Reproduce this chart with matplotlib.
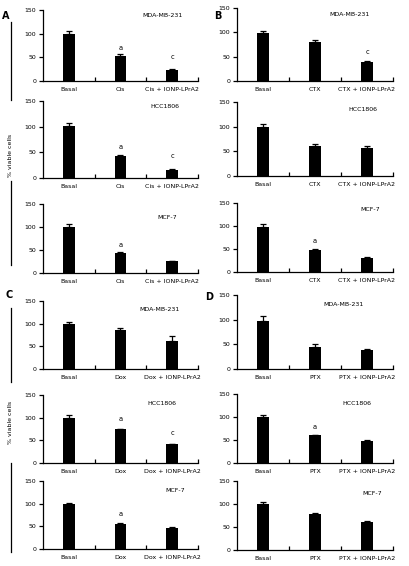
import matplotlib
matplotlib.use('Agg')
import matplotlib.pyplot as plt

# % viable cells
cells = ['MDA-MB-231', 'HCC1806', 'MCF-7']
drugs = ['Cis', 'CTX', 'Dox', 'PTX']

means = {
    'Cis': [[100, 53, 24], [102, 43, 16], [100, 43, 27]],
    'CTX': [[99, 80, 40], [99, 61, 57], [98, 47, 31]],
    'Dox': [[99, 86, 62], [100, 74, 41], [100, 55, 46]],
    'PTX': [[98, 45, 39], [99, 60, 47], [100, 79, 61]],
}
errs = {
    'Cis': [[5, 4, 1.5], [5, 2, 2], [6, 2, 0]],
    'CTX': [[4, 5, 1.5], [6, 3.5, 3.5], [6, 3.5, 1.5]],
    'Dox': [[4, 4.5, 11], [5, 2, 2], [1.5, 1.5, 1.5]],
    'PTX': [[10, 6, 1.5], [5, 0, 4], [4, 1.5, 1.5]],
}
# significance letters: (bar index, text, y)
marks = {
    'Cis': [[(1, 'a', 70), (2, 'c', 50)], [(1, 'a', 60), (2, 'c', 42)], [(1, 'a', 61)]],
    'CTX': [[(2, 'c', 59)], [], [(1, 'a', 68)]],
    'Dox': [[], [(1, 'a', 97), (2, 'c', 66)], [(1, 'a', 78)]],
    'PTX': [[], [(1, 'a', 79)], []],
}
label_pos = {
    'Cis': [(1.82, 139), (1.86, 140), (1.9, 120)],
    'CTX': [(1.67, 136), (1.92, 134), (2.06, 135)],
    'Dox': [(1.76, 132), (1.8, 132), (2.05, 130)],
    'PTX': [(1.54, 130), (1.8, 130), (2.1, 122)],
}

W, H = 410, 566
fig = plt.figure(figsize=(W / 100, H / 100), dpi=100)
fs = 4.5

# pixel boxes (x0, x1) per column and (top, bottom) per row
cols = {'Cis': (43, 198), 'Dox': (43, 198), 'CTX': (237, 393), 'PTX': (237, 393)}
rows = {
    'Cis': [(10, 81), (101, 178), (204, 273)],
    'CTX': [(8, 81), (102, 176), (203, 272)],
    'Dox': [(301, 369), (395, 463), (481, 549)],
    'PTX': [(295, 369), (394, 463), (481, 550)],
}

for drug in drugs:
    x0, x1 = cols[drug]
    cats = ['Basal', drug, drug + ' + IONP-LPrA2']
    for i, cell in enumerate(cells):
        top, bot = rows[drug][i]
        ax = fig.add_axes([x0 / W, 1 - bot / H, (x1 - x0) / W, (bot - top) / H])
        xs = [0, 1, 2]
        ax.bar(xs, means[drug][i], width=0.23, color='black')
        ax.errorbar(xs, means[drug][i], yerr=[[0, 0, 0], errs[drug][i]],
                    fmt='none', ecolor='black', elinewidth=0.9, capsize=2, capthick=0.9)
        for k, t, y in marks[drug][i]:
            ax.text(k, y, t, ha='center', va='center', fontsize=fs + 0.3)
        lx, ly = label_pos[drug][i]
        ax.text(lx, ly, cell, ha='center', va='center', fontsize=fs)
        ax.set_xlim(-0.5, 2.5)
        ax.set_ylim(0, 150)
        ax.set_yticks([0, 50, 100, 150])
        ax.set_xticks(xs)
        ax.set_xticklabels(cats, fontsize=fs)
        ax.set_xticks([0.5, 1.5, 2.5], minor=True)
        ax.tick_params(axis='x', which='major', length=0, pad=4)
        ax.tick_params(axis='x', which='minor', direction='in', length=3, width=0.9)
        ax.tick_params(axis='y', labelsize=fs, length=3, width=0.9, pad=2)
        for s in ['top', 'right']:
            ax.spines[s].set_visible(False)
        for s in ['left', 'bottom']:
            ax.spines[s].set_linewidth(0.9)

# panel letters
for t, x, y in [('A', 6, 16), ('B', 218, 16), ('C', 9, 295), ('D', 209, 297)]:
    fig.text(x / W, 1 - y / H, t, fontsize=7, fontweight='bold', ha='center', va='center')

# y label with bracket lines
for (a, b) in [(22, 100), (181, 265), (308, 382), (463, 552)]:
    fig.add_artist(plt.Line2D([11 / W, 11 / W], [1 - a / H, 1 - b / H], color='black', lw=0.9))
for y in [155, 422]:
    fig.text(11 / W, 1 - y / H, '% viable cells', rotation=90, fontsize=fs,
             ha='center', va='center')

fig.savefig('out.png', dpi=100)
